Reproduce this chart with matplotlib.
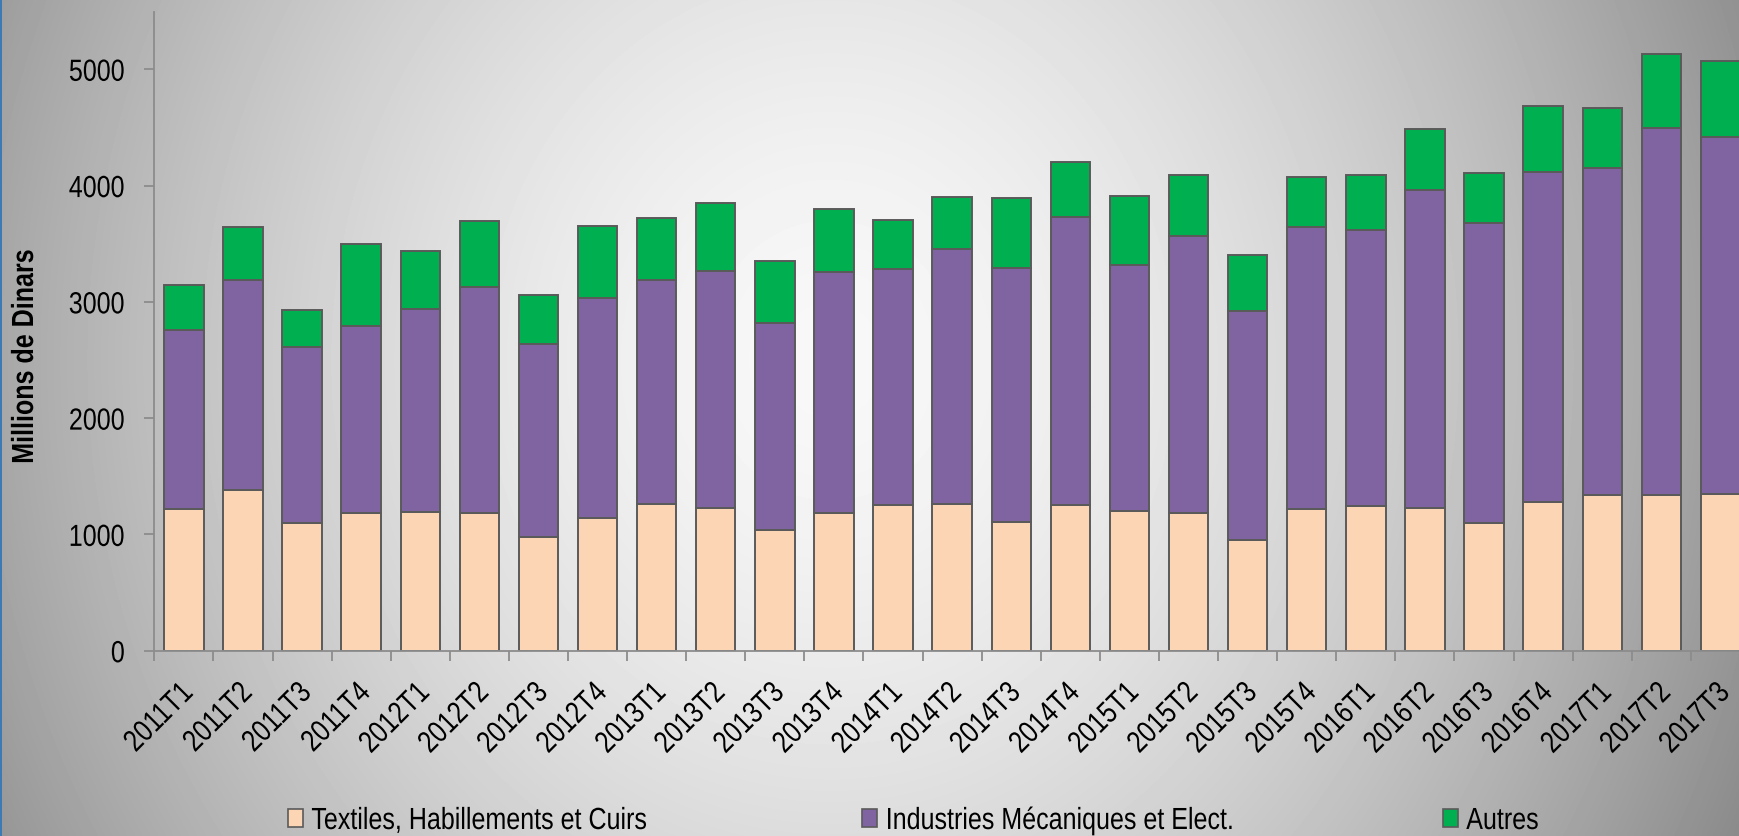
import numpy as np
import matplotlib
matplotlib.use("Agg")
import matplotlib.pyplot as plt
from matplotlib.patches import Patch, Rectangle
from matplotlib.transforms import ScaledTranslation, Affine2D
from matplotlib.patheffects import AbstractPathEffect

# ---------------- data ----------------
quarters = ["2011T1", "2011T2", "2011T3", "2011T4",
            "2012T1", "2012T2", "2012T3", "2012T4",
            "2013T1", "2013T2", "2013T3", "2013T4",
            "2014T1", "2014T2", "2014T3", "2014T4",
            "2015T1", "2015T2", "2015T3", "2015T4",
            "2016T1", "2016T2", "2016T3", "2016T4",
            "2017T1", "2017T2", "2017T3"]
textiles = [1215, 1385, 1102, 1185, 1194, 1185, 978, 1141, 1261, 1224, 1034, 1182,
            1249, 1258, 1105, 1249, 1203, 1185, 948, 1218, 1243, 1228, 1102, 1283,
            1341, 1341, 1351]
mecaniques = [1539, 1806, 1513, 1606, 1741, 1941, 1659, 1890, 1924, 2044, 1781, 2073,
              2037, 2200, 2190, 2477, 2111, 2378, 1972, 2422, 2372, 2735, 2572, 2837,
              2810, 3157, 3064]
autres = [388, 452, 317, 704, 499, 566, 421, 621, 535, 581, 533, 545,
          416, 444, 597, 474, 594, 529, 483, 431, 477, 523, 434, 560,
          517, 634, 653]
series_names = ["Textiles, Habillements et Cuirs",
                "Industries Mécaniques et Elect.",
                "Autres"]
yticks = [0, 1000, 2000, 3000, 4000, 5000]

# ---------------- style ----------------
plt.rcParams["font.family"] = ["Liberation Sans", "DejaVu Sans"]
FS = 22


class Squeeze(AbstractPathEffect):
    """Horizontally condense glyphs (Arial Narrow look)."""
    def __init__(self, sx=0.82, anchor="left"):
        super().__init__()
        self.sx = sx
        self.anchor = anchor

    def draw_path(self, renderer, gc, tpath, affine, rgbFace=None):
        ext = tpath.get_extents()
        if self.anchor == "right":
            x0 = ext.x1
        elif self.anchor == "center":
            x0 = 0.5 * (ext.x0 + ext.x1)
        else:
            x0 = ext.x0
        t = Affine2D().translate(-x0, 0).scale(self.sx, 1).translate(x0, 0) + affine
        renderer.draw_path(gc, tpath, t, rgbFace)


colors = ["#FCD5B5", "#8064A2", "#00B050"]
edge = "#5a5a5a"
spine_col = "#8c8c8c"

W, H = 1740, 836
fig = plt.figure(figsize=(W / 100, H / 100), dpi=100)

# background gradient
bg = fig.add_axes([0, 0, 1, 1], zorder=-10)
yy, xx = np.mgrid[0:H, 0:W]
r = np.sqrt(((xx - 830) / 900.0) ** 2 + ((yy - 360) / 1000.0) ** 2)
val = 248 - 92 * np.clip(r, 0, 1.4) ** 1.6
bg.imshow(val, cmap="gray", vmin=0, vmax=255, aspect="auto",
          extent=[0, 1, 0, 1], origin="upper", interpolation="bilinear")
bg.set_axis_off()
bg.add_patch(Rectangle((0, 0), 2.5 / W, 1, transform=bg.transAxes,
                       color="#3d7ab5", lw=0, zorder=5))

# main axes
ax = fig.add_axes([154.3 / W, (H - 650.7) / H, 1595.7 / W, 638.4 / H])
ax.patch.set_alpha(0)
x = np.arange(len(quarters))
bw = 0.667
tex = np.array(textiles)
mec = np.array(mecaniques)
aut = np.array(autres)
ax.bar(x, tex, bw, color=colors[0], edgecolor=edge, linewidth=1.4, zorder=3)
ax.bar(x, mec, bw, bottom=tex, color=colors[1], edgecolor=edge, linewidth=1.4, zorder=3)
ax.bar(x, aut, bw, bottom=tex + mec, color=colors[2], edgecolor=edge, linewidth=1.4, zorder=3)

ax.set_xlim(-0.5, len(quarters) - 0.5)
ax.set_ylim(0, 5490)
for s in ["top", "right"]:
    ax.spines[s].set_visible(False)
for s in ["left", "bottom"]:
    ax.spines[s].set_color(spine_col)
    ax.spines[s].set_linewidth(1.3)
    ax.spines[s].set_zorder(4)

ax.set_yticks(yticks)
ax.set_yticklabels([str(v) for v in yticks])
ax.tick_params(axis="y", direction="out", length=7, width=1.3, color=spine_col,
               pad=14, labelsize=FS, labelcolor="black")

ax.set_xticks(x)
ax.set_xticklabels(quarters, rotation=45, ha="right", va="center",
                   rotation_mode="anchor")
ax.set_xticks(np.arange(len(quarters) + 1) - 0.5, minor=True)
ax.tick_params(axis="x", which="major", length=0, pad=27, labelsize=FS)
ax.tick_params(axis="x", which="minor", direction="out", length=7, width=1.3,
               color=spine_col)
off = ScaledTranslation(5 / 100, 0, fig.dpi_scale_trans)
for lab in ax.get_xticklabels():
    lab.set_transform(lab.get_transform() + off)
    lab.set_path_effects([Squeeze(0.82, "right")])
for lab in ax.get_yticklabels():
    lab.set_path_effects([Squeeze(0.82, "right")])

yl = fig.text(25 / W, 1 - 357 / H, "Millions de Dinars", rotation=90, fontsize=FS,
              fontweight="bold", ha="center", va="center")
yl.set_path_effects([Squeeze(0.82, "center")])

# legend: one entry per block, placed along the bottom
marker_x = [288, 862, 1443]
for c, name, mx in zip(colors, series_names, marker_x):
    h = Patch(facecolor=c, edgecolor=edge, linewidth=1.2)
    leg = fig.legend([h], [name], loc="center left",
                     bbox_to_anchor=(mx / W, 15 / H), frameon=False, fontsize=FS,
                     handlelength=0.5, handleheight=0.5, handletextpad=0.26,
                     borderaxespad=0, borderpad=0)
    for t in leg.get_texts():
        t.set_path_effects([Squeeze(0.82, "left")])

fig.savefig("out.png", dpi=100)
